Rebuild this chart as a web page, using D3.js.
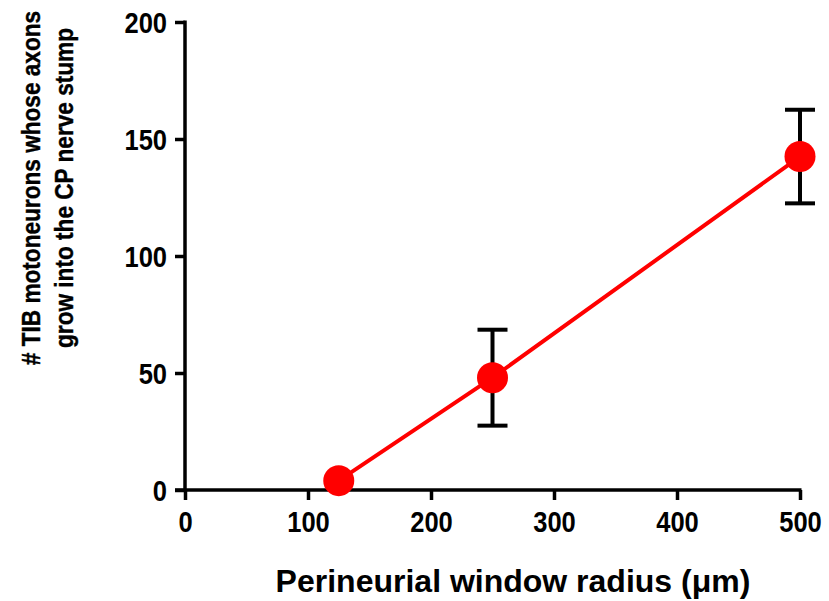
<!DOCTYPE html>
<html>
<head>
<meta charset="utf-8">
<script src="https://cdn.jsdelivr.net/npm/d3@7"></script>
<style>
  body { margin: 0; background: #fff; }
  text { font-family: "Liberation Sans", Arial, sans-serif; font-weight: bold; fill: #000; }
</style>
</head>
<body>
<div id="chart"></div>
<script>
// data
var radius = [125, 250, 500],
    counts = [4, 48, 142.5],
    errs = [0, 20.5, 20],
    xTicks = [0, 100, 200, 300, 400, 500],
    yTicks = [0, 50, 100, 150, 200];

var width = 829,
    height = 601,
    tickSquash = 0.85; // the figure's lettering is a bit narrow

let svg = d3.select("#chart")
    .append("svg")
    .attr("width", width)
    .attr("height", height);

// scales
let x = d3.scaleLinear().domain([0, 500]).range([185, 800]);
let y = d3.scaleLinear().domain([0, 200]).range([490, 22]);

// y axis
let yAxis = svg.append("g")
    .attr("transform", "translate(185,0)")
    .call(d3.axisLeft(y).tickValues(yTicks).tickSize(10).tickPadding(8).tickFormat(d3.format("d")));

// x axis
let xAxis = svg.append("g")
    .attr("transform", "translate(0,490)")
    .call(d3.axisBottom(x).tickValues(xTicks).tickSize(10).tickPadding(11).tickFormat(d3.format("d")));

[yAxis, xAxis].forEach(function(a) {
    a.select(".domain").attr("stroke", "#000").attr("stroke-width", 3.5);
    a.selectAll(".tick line").attr("stroke", "#000").attr("stroke-width", 3.5);
    a.selectAll(".tick text")
        .style("font-size", "30px")
        .attr("transform", "scale(" + tickSquash + ",1)");
});
yAxis.selectAll(".tick text").attr("x", -18 / tickSquash).attr("dy", "0.36em");

// axes just meet at the origin
yAxis.select(".domain").attr("d", "M0," + (y(200) - 1.5) + "V" + (y(0) + 1.5));
xAxis.select(".domain").attr("d", "M" + (x(0) - 10) + ",0H" + (x(500) + 1.5));

let points = radius.map(function(r, i) {
    return { r: r, v: counts[i], e: errs[i] };
});

// error bars
let bars = svg.append("g").selectAll("g")
    .data(points.filter(function(d) { return d.e > 0; }))
    .enter().append("g")
    .attr("stroke", "#000")
    .attr("stroke-width", 4);

bars.append("line")
    .attr("x1", function(d) { return x(d.r); })
    .attr("x2", function(d) { return x(d.r); })
    .attr("y1", function(d) { return y(d.v - d.e); })
    .attr("y2", function(d) { return y(d.v + d.e); });

bars.selectAll(".cap")
    .data(function(d) { return [[d.r, d.v - d.e], [d.r, d.v + d.e]]; })
    .enter().append("line")
    .attr("class", "cap")
    .attr("x1", function(d) { return x(d[0]) - 15; })
    .attr("x2", function(d) { return x(d[0]) + 15; })
    .attr("y1", function(d) { return y(d[1]); })
    .attr("y2", function(d) { return y(d[1]); });

// connecting line
let line = d3.line()
    .x(function(d) { return x(d.r); })
    .y(function(d) { return y(d.v); });

svg.append("path")
    .datum(points)
    .attr("d", line)
    .attr("fill", "none")
    .attr("stroke", "#ff0000")
    .attr("stroke-width", 4);

// markers
svg.append("g").selectAll("circle")
    .data(points)
    .enter().append("circle")
    .attr("cx", function(d) { return x(d.r); })
    .attr("cy", function(d) { return y(d.v); })
    .attr("r", 15.5)
    .attr("fill", "#ff0000");

// axis titles
let yTitle = svg.append("text")
    .attr("transform", "translate(0,188) rotate(-90) scale(0.87,1)")
    .attr("text-anchor", "middle")
    .attr("stroke", "#000")
    .attr("stroke-width", 0.4)
    .style("font-size", "26px");
yTitle.append("tspan").attr("x", 0).attr("y", 40).text("# TIB motoneurons whose axons");
yTitle.append("tspan").attr("x", 0).attr("y", 73).text("grow into the CP nerve stump");

svg.append("text")
    .attr("x", 513)
    .attr("y", 592)
    .attr("text-anchor", "middle")
    .style("font-size", "32px")
    .text("Perineurial window radius (\u03bcm)");
</script>
</body>
</html>
